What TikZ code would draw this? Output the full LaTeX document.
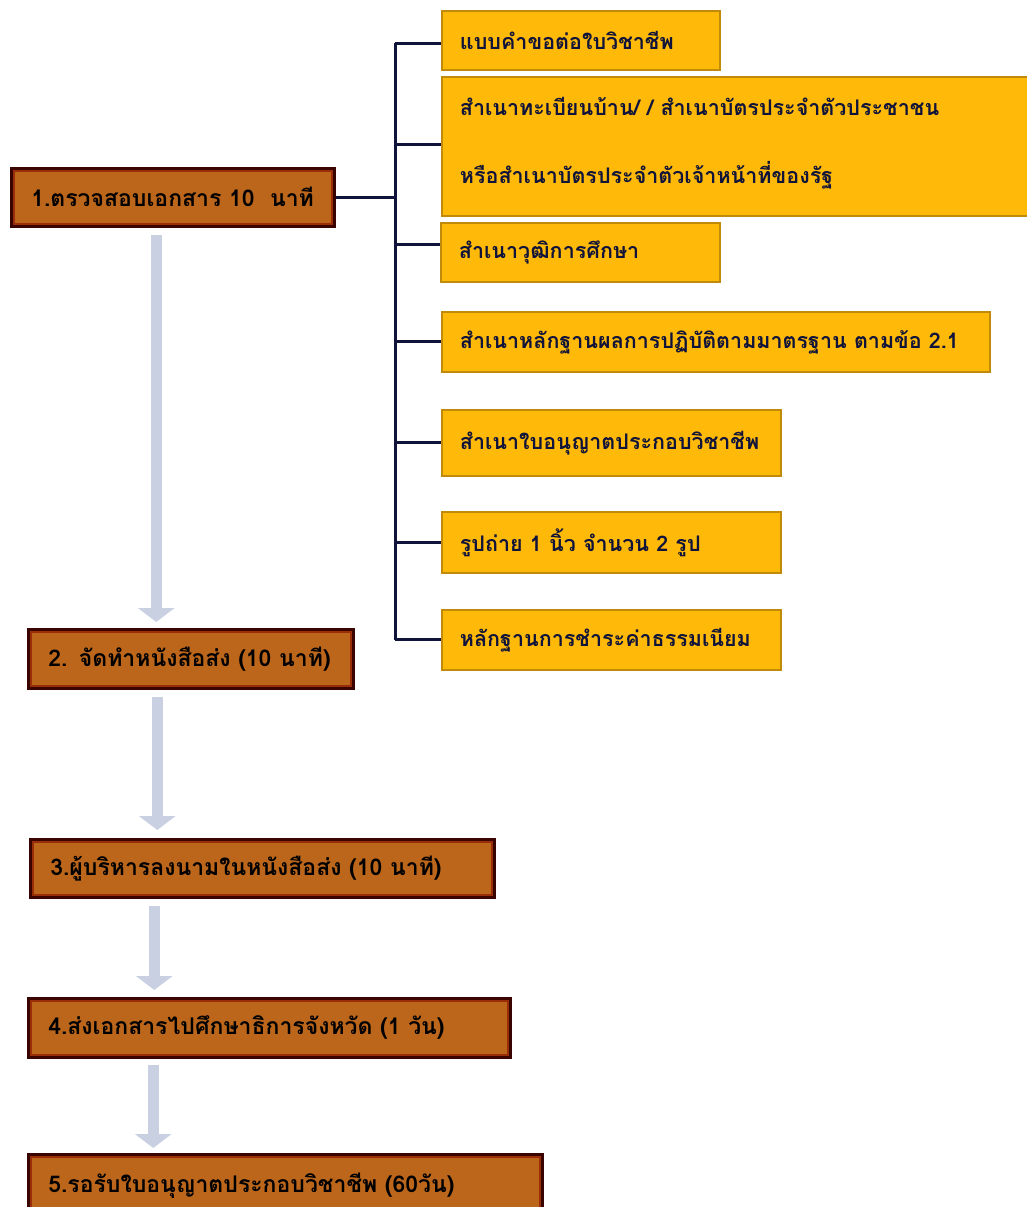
\documentclass[tikz,border=0pt]{standalone}
\usepackage{fontspec}
\newfontfamily\thaifont[Script=Thai]{Loma}
\usetikzlibrary{arrows.meta}
\definecolor{brownfill}{HTML}{BC661C}
\definecolor{brownedge}{HTML}{3A0400}
\definecolor{brownglow}{HTML}{9A2E08}
\definecolor{goldfill}{HTML}{FFB908}
\definecolor{goldedge}{HTML}{C08A0A}
\definecolor{navy}{HTML}{10143A}
\definecolor{arrowgray}{HTML}{C8D0E2}
\begin{document}
\begin{tikzpicture}[x=1pt,y=-1pt,
  brownbox/.style={anchor=north west, fill=brownfill, draw=brownedge, line width=2.5pt,
    path picture={\draw[brownglow, line width=7pt] (path picture bounding box.south west) rectangle (path picture bounding box.north east);},
    inner xsep=20pt, inner ysep=0pt, align=left, font=\thaifont\bfseries\fontsize{23}{27}\selectfont, text=black},
  goldbox/.style={anchor=north west, fill=goldfill, draw=goldedge, line width=1.8pt,
    inner xsep=18pt, inner ysep=0pt, align=left, font=\thaifont\bfseries\fontsize{21.5}{26}\selectfont, text=navy},
  link/.style={draw=navy, line width=3pt},
  flow/.style={draw=arrowgray, line width=11pt, -{Triangle[width=36pt,length=14pt]}}
]
\useasboundingbox (0,0) rectangle (1026,1207);

% main steps
\node[brownbox, text width=283pt, minimum height=58pt] (s1) at (10,167) {1.ตรวจสอบเอกสาร 10\ \ นาที};
\node[brownbox, text width=285pt, minimum height=59pt] (s2) at (27,628) {2. จัดทำหนังสือส่ง (10 นาที)};
\node[brownbox, text width=424pt, minimum height=58pt] (s3) at (29,838) {3.ผู้บริหารลงนามในหนังสือส่ง (10 นาที)};
\node[brownbox, text width=442pt, minimum height=59pt] (s4) at (27,997) {4.ส่งเอกสารไปศึกษาธิการจังหวัด (1 วัน)};
\node[brownbox, text width=474pt, minimum height=62pt] (s5) at (27,1153) {5.รอรับใบอนุญาตประกอบวิชาชีพ (60วัน)};

% documents
\node[goldbox, text width=242pt, minimum height=59pt] (d1) at (441,10) {แบบคำขอต่อใบวิชาชีพ};
\node[goldbox, text width=560pt, minimum height=139pt] (d2) at (441,76) {สำเนาทะเบียนบ้าน/ / สำเนาบัตรประจำตัวประชาชน\\[42pt]หรือสำเนาบัตรประจำตัวเจ้าหน้าที่ของรัฐ\\[-14pt]\mbox{}};
\node[goldbox, text width=243pt, minimum height=59pt] (d3) at (440,222) {สำเนาวุฒิการศึกษา};
\node[goldbox, text width=512pt, minimum height=60pt] (d4) at (441,311) {สำเนาหลักฐานผลการปฏิบัติตามมาตรฐาน ตามข้อ 2.1};
\node[goldbox, text width=303pt, minimum height=66pt] (d5) at (441,409) {สำเนาใบอนุญาตประกอบวิชาชีพ};
\node[goldbox, text width=303pt, minimum height=61pt] (d6) at (441,511) {รูปถ่าย 1 นิ้ว จำนวน 2 รูป};
\node[goldbox, text width=303pt, minimum height=60pt] (d7) at (441,609) {หลักฐานการชำระค่าธรรมเนียม};

% bracket connectors
\coordinate (trunk) at (395,0);
\draw[link] ([yshift=-3pt]d1.west -| trunk) -- (d7.west -| trunk);
\draw[link] (s1.east) -- (s1.east -| trunk);
\draw[link] ([yshift=-3pt]d1.west -| trunk) -- ([yshift=-3pt]d1.west);
\draw[link] ([yshift=2pt]d2.west -| trunk) -- ([yshift=2pt]d2.west);
\draw[link] ([yshift=8pt]d3.west -| trunk) -- ([yshift=8pt]d3.west);
\draw[link] (d4.west -| trunk) -- (d4.west);
\draw[link] (d5.west -| trunk) -- (d5.west);
\draw[link] (d6.west -| trunk) -- (d6.west);
\draw[link] (d7.west -| trunk) -- (d7.west);

% flow arrows
\draw[flow] ([xshift=-16.5pt,yshift=-7pt]s1.south) -- ([xshift=-16.5pt,yshift=6pt]s1.south |- s2.north);
\draw[flow] ([xshift=-33.5pt,yshift=-7pt]s2.south) -- ([xshift=-33.5pt,yshift=8pt]s2.south |- s3.north);
\draw[flow] ([xshift=-108pt,yshift=-7pt]s3.south) -- ([xshift=-108pt,yshift=7pt]s3.south |- s4.north);
\draw[flow] ([xshift=-116pt,yshift=-6pt]s4.south) -- ([xshift=-116pt,yshift=5pt]s4.south |- s5.north);
\end{tikzpicture}
\end{document}
